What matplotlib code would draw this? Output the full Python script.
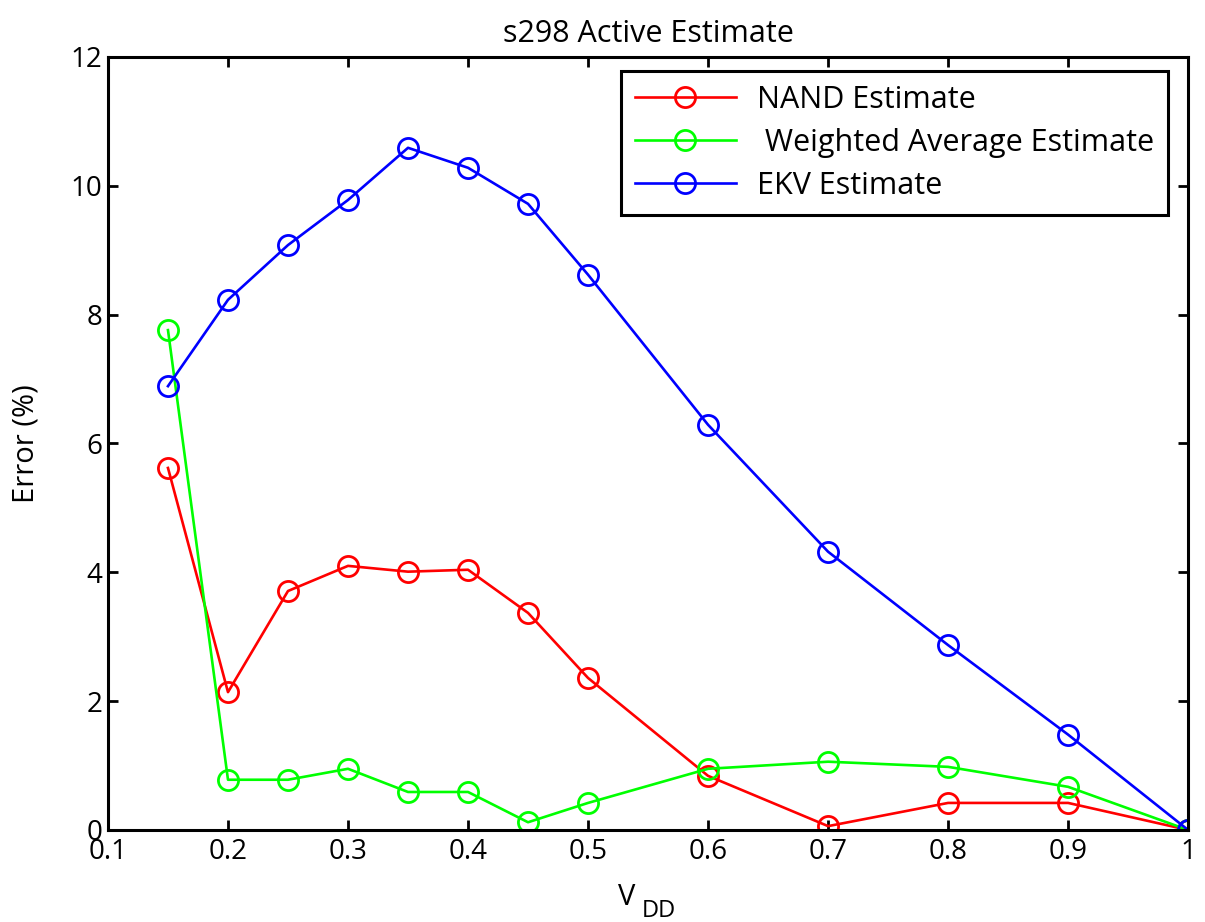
import matplotlib
matplotlib.use("Agg")
import matplotlib.pyplot as plt

vdd = [0.15, 0.2, 0.25, 0.3, 0.35, 0.4, 0.45, 0.5, 0.6, 0.7, 0.8, 0.9, 1.0]
nand = [5.62, 2.14, 3.71, 4.10, 4.01, 4.04, 3.37, 2.36, 0.84, 0.06, 0.42, 0.42, 0.0]
weighted = [7.76, 0.78, 0.78, 0.95, 0.59, 0.59, 0.12, 0.42, 0.95, 1.06, 0.98, 0.67, 0.0]
ekv = [6.89, 8.23, 9.08, 9.78, 10.59, 10.28, 9.72, 8.62, 6.29, 4.32, 2.87, 1.48, 0.0]
labels = ["NAND Estimate", " Weighted Average Estimate", "EKV Estimate"]
xticks = [0.1, 0.2, 0.3, 0.4, 0.5, 0.6, 0.7, 0.8, 0.9, 1.0]
xticklabels = ["0.1", "0.2", "0.3", "0.4", "0.5", "0.6", "0.7", "0.8", "0.9", "1"]
yticks = [0, 2, 4, 6, 8, 10, 12]

plt.rcParams['font.family'] = ['Open Sans', 'DejaVu Sans']

fig = plt.figure(figsize=(12.05, 9.22), dpi=100)
ax = fig.add_axes([0.0896, 0.0998, 0.8964, 0.8384])

style = dict(marker='o', markersize=14.5, markerfacecolor='none', linewidth=1.9, markeredgewidth=2.0)
ax.plot(vdd, nand, color='#ff0000', label=labels[0], **style)
ax.plot(vdd, weighted, color='#00ff00', label=labels[1], **style)
ax.plot(vdd, ekv, color='#0000ff', label=labels[2], **style)

ax.set_xlim(0.1, 1.0)
ax.set_ylim(0, 12)
ax.set_xticks(xticks)
ax.set_xticklabels(xticklabels)
ax.set_yticks(yticks)
ax.tick_params(direction='in', length=7, width=2, labelsize=20, top=True, right=True)
ax.tick_params(axis='x', pad=6)
ax.tick_params(axis='y', pad=4)
for s in ax.spines.values():
    s.set_linewidth(2.2)

ax.set_title("s298 Active Estimate", fontsize=22, pad=11)
ax.set_ylabel("Error (%)", fontsize=21, labelpad=22)
# x label: V with subscript DD, placed as in the reference
fig.text(618 / 1205, 1 - 905 / 922, "V", fontsize=21, va='baseline', ha='left')
fig.text(642 / 1205, 1 - 917 / 922, "DD", fontsize=17, va='baseline', ha='left')

leg = ax.legend(loc='upper right', bbox_to_anchor=(0.9815, 0.982), borderaxespad=0,
                fontsize=22, handlelength=3.3, frameon=True, fancybox=False,
                edgecolor='black', borderpad=0.45, labelspacing=0.43,
                handletextpad=0.7, framealpha=1)
leg.get_frame().set_linewidth(2.2)
fig.savefig("out.png", dpi=100)
